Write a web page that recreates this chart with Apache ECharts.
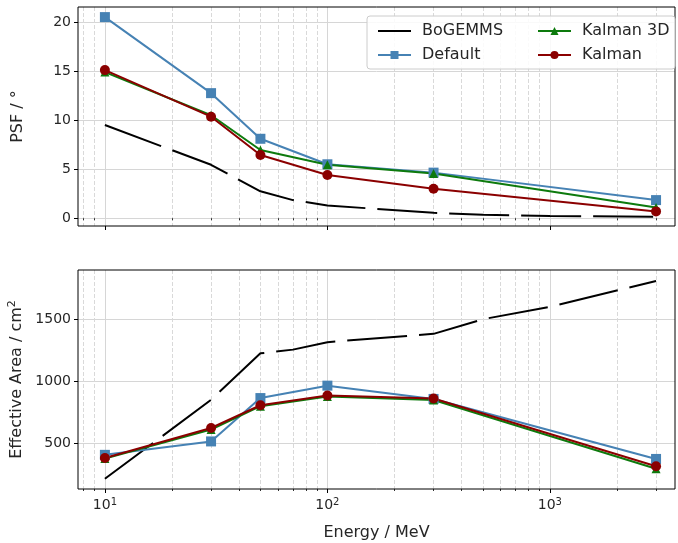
<!DOCTYPE html>
<html>
<head>
<meta charset="utf-8">
<script src="https://cdn.jsdelivr.net/npm/echarts@6/dist/echarts.min.js"></script>
<style>
html,body{margin:0;padding:0;background:#fff;}
#chart{width:678px;height:543px;}
</style>
</head>
<body>
<div id="chart"></div>
<script>
// Energy grid (MeV)
const energy = [10, 30, 50, 100, 300, 3000];
const energyBoGEMMS = [10, 30, 50, 70, 100, 300, 500, 1000, 3000];

// Point spread function (degrees)
const psfBoGEMMS = [9.5, 5.45, 2.75, 1.85, 1.3, 0.55, 0.35, 0.22, 0.15];
const psfDefault = [20.5, 12.75, 8.1, 5.5, 4.65, 1.85];
const psfKalman3D = [14.9, 10.5, 6.95, 5.45, 4.55, 1.1];
const psfKalman = [15.1, 10.35, 6.45, 4.4, 3.0, 0.7];

// Effective area (cm^2)
const aeffBoGEMMS = [215, 851, 1225, 1255, 1315, 1382, 1500, 1600, 1808];
const aeffDefault = [408, 516, 865, 965, 858, 375];
const aeffKalman3D = [378, 612, 800, 878, 850, 296];
const aeffKalman = [382, 624, 807, 886, 862, 316];

// Axis ticks
const xMajor = [10, 100, 1000];
const xMinor = [8, 9, 20, 30, 40, 50, 60, 70, 80, 90, 200, 300, 400, 500, 600, 700, 800, 900, 2000, 3000];
const psfTicks = [0, 5, 10, 15, 20];
const aeffTicks = [500, 1000, 1500];

const FONT = 'DejaVu Sans';
const xRange = [7.57, 3650];

const pairs = (xs, ys) => xs.map((x, i) => [x, ys[i]]);
const supRich = { sup: { fontSize: 10, fontFamily: FONT, color: '#262626', verticalAlign: 'top', padding: [0, 0, 7, 0] } };

function majorX(gridIndex, showLabel) {
  return {
    type: 'log', logBase: 10, gridIndex, position: 'bottom', min: xRange[0], max: xRange[1],
    axisLine: { show: false },
    axisTick: { show: true, length: 4, customValues: xMajor, lineStyle: { color: '#000', width: 1 } },
    axisLabel: {
      show: showLabel, customValues: xMajor, margin: 8, fontSize: 14, fontFamily: FONT, color: '#262626',
      formatter: v => '10{sup|' + Math.round(Math.log10(v)) + '}', rich: supRich
    },
    splitLine: { show: true, lineStyle: { color: '#d6d6d6', width: 1 } },
    name: showLabel ? 'Energy / MeV' : '', nameLocation: 'middle', nameGap: 36,
    nameTextStyle: { fontSize: 16, fontFamily: FONT, color: '#262626' }
  };
}
function minorX(gridIndex) {
  return {
    type: 'log', logBase: 10, gridIndex, position: 'bottom', min: xRange[0], max: xRange[1],
    axisLine: { show: false },
    axisTick: { show: true, length: 2, customValues: xMinor, lineStyle: { color: '#000', width: 0.8 } },
    axisLabel: { show: false },
    splitLine: { show: true, lineStyle: { color: '#d9d9d9', width: 1, type: [4, 2] } }
  };
}
function yAxis(gridIndex, min, max, ticks, name) {
  return {
    type: 'value', gridIndex, position: 'left', min, max,
    axisLine: { show: false },
    axisTick: { show: true, length: 4, customValues: ticks, lineStyle: { color: '#000', width: 1 } },
    axisLabel: { customValues: ticks, fontSize: 14, fontFamily: FONT, color: '#262626', margin: 7, formatter: v => String(v) },
    splitLine: { show: true, lineStyle: { color: '#d6d6d6', width: 1 } },
    name, nameLocation: 'middle', nameGap: 52,
    nameTextStyle: { fontSize: 16, fontFamily: FONT, color: '#262626', rich: { sup: { fontSize: 11, fontFamily: FONT, color: '#262626', verticalAlign: 'top', padding: [0, 0, 8, 0] } } }
  };
}

const COLORS = { BoGEMMS: '#000000', Default: '#4682b4', 'Kalman 3D': '#0d7a0d', Kalman: '#8b0000' };

function series(name, xi, yi, xs, ys) {
  const base = {
    name, type: 'line', xAxisIndex: xi, yAxisIndex: yi, data: pairs(xs, ys),
    color: COLORS[name], animation: false, z: 3
  };
  if (name === 'BoGEMMS') {
    return Object.assign(base, { symbol: 'none', lineStyle: { width: 2, type: [60, 12], color: '#000' } });
  }
  const sym = { Default: ['rect', 10], 'Kalman 3D': ['triangle', 9], Kalman: ['circle', 10] }[name];
  return Object.assign(base, {
    symbol: sym[0], symbolSize: sym[1], showSymbol: true,
    lineStyle: { width: 2, color: COLORS[name] },
    itemStyle: { color: COLORS[name], borderWidth: 0 }
  });
}

const legendText = { fontSize: 16, fontFamily: FONT, color: '#262626', padding: [0, 0, 0, 6] };

const chart = echarts.init(document.getElementById('chart'), null, { renderer: 'canvas' });
chart.setOption({
  backgroundColor: '#fff',
  animation: false,
  textStyle: { fontFamily: FONT },
  grid: [
    { left: 78, top: 7, width: 597, height: 219, show: true, borderColor: '#000', borderWidth: 1, backgroundColor: 'transparent', z: 4, outerBoundsMode: 'none', containLabel: false },
    { left: 78, top: 270, width: 597, height: 219, show: true, borderColor: '#000', borderWidth: 1, backgroundColor: 'transparent', z: 4, outerBoundsMode: 'none', containLabel: false }
  ],
  xAxis: [minorX(0), majorX(0, false), minorX(1), majorX(1, true)],
  yAxis: [
    yAxis(0, -0.79, 21.53, psfTicks, 'PSF / °'),
    yAxis(1, 133, 1896, aeffTicks, 'Effective Area / cm{sup|2}')
  ],
  legend: [
    {
      data: [{ name: 'BoGEMMS', icon: 'path://M0,0H33V2H0Z' }, 'Default'], orient: 'vertical', left: 372, top: 18, itemGap: 8,
      itemWidth: 33, itemHeight: 10, textStyle: legendText, z: 10
    },
    {
      data: ['Kalman 3D', 'Kalman'], orient: 'vertical', left: 532, top: 18, itemGap: 8,
      itemWidth: 33, itemHeight: 10, textStyle: legendText, z: 10
    }
  ],
  graphic: [{
    type: 'rect', shape: { x: 367, y: 16, width: 308, height: 53, r: 3 },
    style: { fill: 'rgba(255,255,255,0.85)', stroke: '#cccccc', lineWidth: 1 }, z: 9
  }],
  series: [
    series('BoGEMMS', 1, 0, energyBoGEMMS, psfBoGEMMS),
    series('Default', 1, 0, energy, psfDefault),
    series('Kalman 3D', 1, 0, energy, psfKalman3D),
    series('Kalman', 1, 0, energy, psfKalman),
    series('BoGEMMS', 3, 1, energyBoGEMMS, aeffBoGEMMS),
    series('Default', 3, 1, energy, aeffDefault),
    series('Kalman 3D', 3, 1, energy, aeffKalman3D),
    series('Kalman', 3, 1, energy, aeffKalman)
  ]
});
</script>
</body>
</html>
